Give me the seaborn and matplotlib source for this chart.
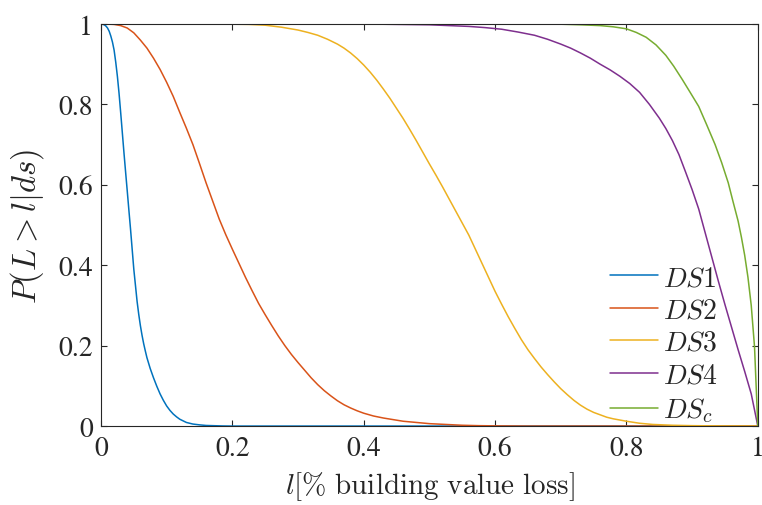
import numpy as np
import pandas as pd
import matplotlib
matplotlib.use('Agg')
import matplotlib.pyplot as plt
import seaborn as sns

# valores (l, P(L > l | ds))
ds1_x = [0, 0.0025, 0.005, 0.0075, 0.01, 0.0125, 0.015, 0.0175, 0.02, 0.0225, 0.025,
         0.0275, 0.03, 0.0325, 0.035, 0.0375, 0.04, 0.0425, 0.045, 0.0475, 0.05, 0.0525,
         0.055, 0.0575, 0.06, 0.0625, 0.065, 0.0675, 0.07, 0.075, 0.08, 0.085, 0.09,
         0.095, 0.1, 0.105, 0.11, 0.115, 0.12, 0.13, 0.14, 0.15, 0.16, 0.17, 0.185, 0.2, 1.0]
ds1_y = [1.0, 0.9995, 0.998, 0.995, 0.99, 0.982, 0.97, 0.955, 0.935, 0.905, 0.87,
         0.828, 0.78, 0.73, 0.68, 0.632, 0.585, 0.537, 0.49, 0.44, 0.39, 0.35,
         0.31, 0.278, 0.25, 0.226, 0.205, 0.187, 0.17, 0.143, 0.12, 0.099, 0.08,
         0.064, 0.05, 0.039, 0.03, 0.023, 0.017, 0.009, 0.005, 0.003, 0.0015, 0.001, 0.0003, 0.0, 0.0]

ds2_x = [0, 0.01, 0.02, 0.03, 0.04, 0.05, 0.06, 0.07, 0.08, 0.09, 0.1, 0.11, 0.12, 0.13,
         0.14, 0.15, 0.16, 0.17, 0.18, 0.19, 0.2, 0.21, 0.22, 0.23, 0.24, 0.25, 0.26, 0.27,
         0.28, 0.29, 0.3, 0.31, 0.32, 0.33, 0.34, 0.35, 0.36, 0.37, 0.38, 0.39, 0.4, 0.415,
         0.43, 0.445, 0.46, 0.48, 0.5, 0.525, 0.55, 0.575, 0.6, 0.65, 1.0]
ds2_y = [1.0, 0.9998, 0.999, 0.996, 0.99, 0.978, 0.96, 0.94, 0.915, 0.887, 0.855, 0.82,
         0.78, 0.741, 0.70, 0.653, 0.605, 0.56, 0.515, 0.476, 0.44, 0.405, 0.37, 0.337,
         0.305, 0.277, 0.25, 0.224, 0.2, 0.178, 0.158, 0.139, 0.12, 0.103, 0.088, 0.075,
         0.063, 0.053, 0.045, 0.038, 0.032, 0.025, 0.02, 0.016, 0.012, 0.009, 0.006, 0.004,
         0.002, 0.001, 0.0005, 0.0, 0.0]

ds3_x = [0, 0.15, 0.2, 0.225, 0.25, 0.275, 0.3, 0.315, 0.33, 0.345, 0.36, 0.37, 0.38,
         0.39, 0.4, 0.41, 0.42, 0.43, 0.44, 0.45, 0.46, 0.47, 0.48, 0.49, 0.5, 0.51, 0.52,
         0.53, 0.54, 0.55, 0.56, 0.57, 0.58, 0.59, 0.6, 0.61, 0.62, 0.63, 0.64, 0.65, 0.66,
         0.67, 0.68, 0.69, 0.7, 0.71, 0.72, 0.73, 0.74, 0.75, 0.76, 0.77, 0.78, 0.79, 0.8,
         0.82, 0.84, 0.87, 0.9, 0.95, 1.0]
ds3_y = [1.0, 1.0, 0.9995, 0.999, 0.997, 0.992, 0.985, 0.979, 0.972, 0.962, 0.95, 0.94,
         0.928, 0.914, 0.898, 0.88, 0.86, 0.838, 0.815, 0.79, 0.765, 0.738, 0.71, 0.681,
         0.652, 0.624, 0.595, 0.565, 0.535, 0.505, 0.475, 0.44, 0.405, 0.37, 0.335, 0.303,
         0.272, 0.243, 0.215, 0.19, 0.168, 0.147, 0.128, 0.11, 0.093, 0.078, 0.064, 0.052,
         0.042, 0.034, 0.028, 0.022, 0.018, 0.015, 0.012, 0.007, 0.004, 0.002, 0.001,
         0.0002, 0.0]

ds4_x = [0, 0.4, 0.45, 0.5, 0.53, 0.56, 0.585, 0.61, 0.635, 0.66, 0.68, 0.7, 0.715,
         0.73, 0.745, 0.76, 0.775, 0.79, 0.805, 0.82, 0.835, 0.85, 0.86, 0.87, 0.88, 0.89,
         0.9, 0.91, 0.92, 0.93, 0.94, 0.95, 0.96, 0.97, 0.98, 0.99, 1.0]
ds4_y = [1.0, 1.0, 0.999, 0.998, 0.996, 0.994, 0.991, 0.987, 0.98, 0.972, 0.962, 0.95,
         0.94, 0.928, 0.915, 0.90, 0.886, 0.87, 0.852, 0.83, 0.80, 0.766, 0.74, 0.71,
         0.675, 0.632, 0.588, 0.54, 0.48, 0.42, 0.36, 0.302, 0.246, 0.19, 0.136, 0.08, 0.0]

dsc_x = [0, 0.65, 0.7, 0.73, 0.76, 0.78, 0.8, 0.815, 0.83, 0.845, 0.86, 0.872, 0.885,
         0.897, 0.91, 0.922, 0.935, 0.945, 0.955, 0.962, 0.97, 0.975, 0.98, 0.985, 0.99,
         0.995, 1.0]
dsc_y = [1.0, 1.0, 0.9995, 0.998, 0.996, 0.993, 0.988, 0.979, 0.967, 0.948, 0.922,
         0.895, 0.862, 0.83, 0.795, 0.75, 0.70, 0.655, 0.605, 0.56, 0.51, 0.47, 0.425,
         0.37, 0.30, 0.197, 0.0]

labels = ['$DS1$', '$DS2$', '$DS3$', '$DS4$', '$DS_c$']
cores = ['#0072BD', '#D95319', '#EDB120', '#7E2F8E', '#77AC30']
ticks = [0, 0.2, 0.4, 0.6, 0.8, 1]
tick_labels = ['0', '0.2', '0.4', '0.6', '0.8', '1']

series = [(ds1_x, ds1_y), (ds2_x, ds2_y), (ds3_x, ds3_y), (ds4_x, ds4_y), (dsc_x, dsc_y)]
df = pd.concat([pd.DataFrame({'l': x, 'p': y, 'ds': lab})
                for (x, y), lab in zip(series, labels)], ignore_index=True)

sns.set_style('ticks')
plt.rcParams['font.family'] = ['STIXGeneral', 'DejaVu Serif']
plt.rcParams['mathtext.fontset'] = 'cm'
plt.rcParams['xtick.direction'] = 'in'
plt.rcParams['ytick.direction'] = 'in'

fig = plt.figure(figsize=(7.62, 5.06), dpi=100)
ax = fig.add_axes([0.1325, 0.156, 0.862, 0.7946])

sns.lineplot(data=df, x='l', y='p', hue='ds', palette=cores, estimator=None,
             sort=False, linewidth=1.1, ax=ax)

ax.set_xlim(0, 1)
ax.set_ylim(0, 1)
ax.set_xticks(ticks)
ax.set_xticklabels(tick_labels)
ax.set_yticks(ticks)
ax.set_yticklabels(tick_labels)
ax.tick_params(labelsize=20, length=4, width=0.8, color='#262626',
               top=True, right=True)
ax.tick_params(axis='y', pad=6)
ax.tick_params(axis='x', pad=7)
for s in ax.spines.values():
    s.set_color('#262626')
    s.set_linewidth(0.8)

ax.set_xlabel(r'$l[\%\ \mathrm{building\ value\ loss}]$', fontsize=21, labelpad=6)
ax.set_ylabel(r'$P(L>l|ds)$', fontsize=23.5, labelpad=9)

ax.legend(loc='lower right', frameon=False, fontsize=20, handlelength=1.7,
          handletextpad=0.2, labelspacing=0.25, borderpad=0, borderaxespad=0,
          bbox_to_anchor=(0.94, 0.005))

fig.savefig('out.png', dpi=100)
